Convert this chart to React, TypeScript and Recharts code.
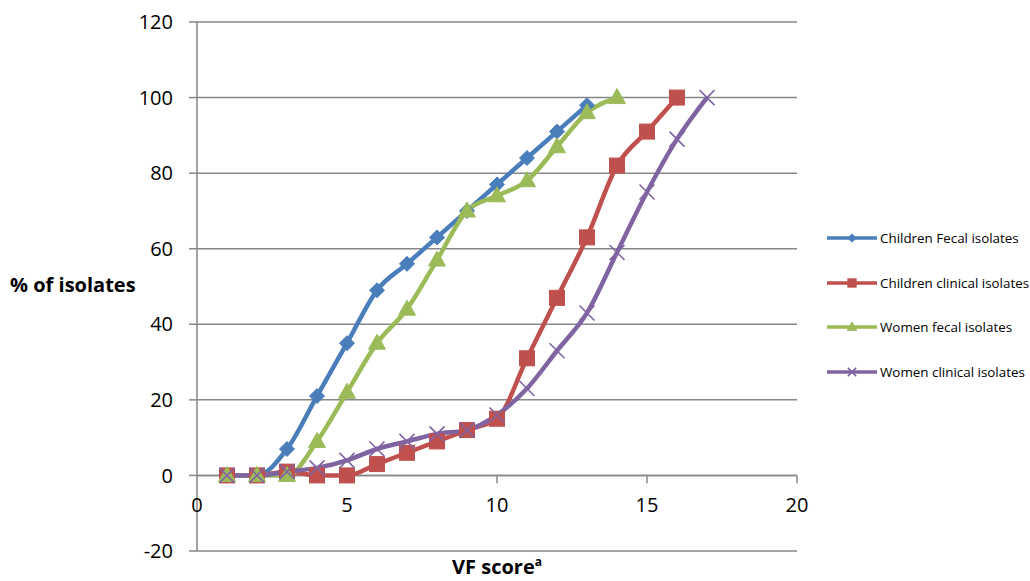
import React from "react"
import { LineChart, Line, XAxis, YAxis, CartesianGrid, ReferenceLine } from "recharts"

// VF score (x) and cumulative % of isolates (y) for each group
const childFecalX = [1, 2, 3, 4, 5, 6, 7, 8, 9, 10, 11, 12, 13]
const childFecalY = [0, 0, 7, 21, 35, 49, 56, 63, 70, 77, 84, 91, 98]
const childClinicalX = [1, 2, 3, 4, 5, 6, 7, 8, 9, 10, 11, 12, 13, 14, 15, 16]
const childClinicalY = [0, 0, 1, 0, 0, 3, 6, 9, 12, 15, 31, 47, 63, 82, 91, 100]
const womenFecalX = [1, 2, 3, 4, 5, 6, 7, 8, 9, 10, 11, 12, 13, 14]
const womenFecalY = [0, 0, 0, 9, 22, 35, 44, 57, 70, 74, 78, 87, 96, 100]
const womenClinicalX = [1, 2, 3, 4, 5, 6, 7, 8, 9, 10, 11, 12, 13, 14, 15, 16, 17]
const womenClinicalY = [0, 0, 1, 2, 4, 7, 9, 11, 12, 16, 23, 33, 43, 59, 75, 89, 100]

const xTicks = [0, 5, 10, 15, 20]
const yTicks = [-20, 0, 20, 40, 60, 80, 100, 120]
const xTickMarks = [5, 10, 15, 20]

const seriesNames = [
    "Children Fecal isolates",
    "Children clinical isolates",
    "Women fecal isolates",
    "Women clinical isolates",
]

const BLUE = "#4A7EBB"
const RED = "#C0504D"
const GREEN = "#9BBB59"
const PURPLE = "#8064A2"
const GRID = "#878787"
const FONT = "'Open Sans', sans-serif"

const W = 1030
const H = 581
const TOP = 22
const BOTTOM = 30
const PLOT_H = H - TOP - BOTTOM
const ZERO_Y = TOP + (120 / 140) * PLOT_H

const toPoints = (xs: number[], ys: number[]) => xs.map((x, i) => ({ x, y: ys[i] }))

type Shape = "diamond" | "square" | "triangle" | "cross"

function marker(shape: Shape, color: string, cx: number, cy: number, k: any, scale = 1) {
    if (cx == null || cy == null) return <g key={k} />
    if (shape === "diamond") {
        const r = 7.5 * scale
        return <path key={k} d={`M${cx},${cy - r}L${cx + r},${cy}L${cx},${cy + r}L${cx - r},${cy}Z`} fill={color} stroke={color} />
    }
    if (shape === "square") {
        const s = 15 * scale
        return <rect key={k} x={cx - s / 2} y={cy - s / 2} width={s} height={s} fill={color} stroke={color} />
    }
    if (shape === "triangle") {
        const w = 8.5 * scale
        return <path key={k} d={`M${cx},${cy - 9 * scale}L${cx + w},${cy + 6 * scale}L${cx - w},${cy + 6 * scale}Z`} fill={color} stroke={color} />
    }
    const r = 7.5 * scale
    return (
        <path key={k} d={`M${cx - r},${cy - r}L${cx + r},${cy + r}M${cx + r},${cy - r}L${cx - r},${cy + r}`} stroke={color} strokeWidth={1.6} fill="none" />
    )
}

const series = [
    { name: seriesNames[0], data: toPoints(childFecalX, childFecalY), color: BLUE, shape: "diamond" as Shape },
    { name: seriesNames[1], data: toPoints(childClinicalX, childClinicalY), color: RED, shape: "square" as Shape },
    { name: seriesNames[2], data: toPoints(womenFecalX, womenFecalY), color: GREEN, shape: "triangle" as Shape },
    { name: seriesNames[3], data: toPoints(womenClinicalX, womenClinicalY), color: PURPLE, shape: "cross" as Shape },
]

// x tick labels sit just under the zero line, as in the original
const renderXTick = (props: any) => {
    const { x, payload, index } = props
    return (
        <text key={`xl-${index}`} x={x} y={ZERO_Y + 37} textAnchor="middle" fontSize={20} fontFamily={FONT} fill="#000">
            {payload.value}
        </text>
    )
}

export default function App() {
    return (
        <div style={{ position: "absolute", left: 0, top: 0, width: W, height: H, background: "#fff", fontFamily: FONT }}>
            <LineChart width={W} height={H} margin={{ top: TOP, right: 233, bottom: 0, left: 137 }}>
                <CartesianGrid vertical={false} stroke={GRID} strokeWidth={1.5} />
                <XAxis
                    type="number"
                    dataKey="x"
                    domain={[0, 20]}
                    ticks={xTicks}
                    height={BOTTOM}
                    axisLine={false}
                    tickLine={false}
                    tick={renderXTick}
                    interval={0}
                    allowDuplicatedCategory={false}
                />
                <YAxis
                    type="number"
                    domain={[-20, 120]}
                    ticks={yTicks}
                    width={60}
                    axisLine={{ stroke: GRID, strokeWidth: 1.5 }}
                    tickLine={{ stroke: GRID, strokeWidth: 1.5 }}
                    tickSize={8}
                    tickMargin={16}
                    tick={{ fontSize: 20, fontFamily: FONT, fill: "#000" }}
                    interval={0}
                />
                <ReferenceLine y={0} stroke={GRID} strokeWidth={1.5} ifOverflow="visible" />
                {xTickMarks.map(t => (
                    <ReferenceLine
                        key={`xt-${t}`}
                        segment={[{ x: t, y: 0 }, { x: t, y: -2.1 }]}
                        stroke={GRID}
                        strokeWidth={1.5}
                        ifOverflow="visible"
                    />
                ))}
                {series.map(s => (
                    <Line
                        key={s.name}
                        data={s.data}
                        dataKey="y"
                        name={s.name}
                        type="monotone"
                        stroke={s.color}
                        strokeWidth={4.5}
                        strokeLinejoin="round"
                        isAnimationActive={false}
                        activeDot={false}
                        dot={(p: any) => marker(s.shape, s.color, p.cx, p.cy, `${s.name}-${p.index}`)}
                    />
                ))}
            </LineChart>

            <div style={{ position: "absolute", left: 10, top: 271, fontSize: 20, fontWeight: 700, color: "#000", whiteSpace: "nowrap" }}>
                % of isolates
            </div>
            <div style={{ position: "absolute", left: 397, width: 200, textAlign: "center", top: 553, fontSize: 20, fontWeight: 700, color: "#000", whiteSpace: "nowrap" }}>
                VF score<sup style={{ fontSize: 12 }}>a</sup>
            </div>

            <div style={{ position: "absolute", left: 826, top: 227 }}>
                {series.map(s => (
                    <div key={s.name} style={{ display: "flex", alignItems: "center", height: 22, marginBottom: 22.6 }}>
                        <svg width={52} height={16} style={{ display: "block" }}>
                            <line x1={1} y1={8} x2={51} y2={8} stroke={s.color} strokeWidth={3.5} />
                            {marker(s.shape, s.color, 26, 8, "m", 0.55)}
                        </svg>
                        <span style={{ fontSize: 13.4, color: "#000", marginLeft: 2, whiteSpace: "nowrap" }}>{s.name}</span>
                    </div>
                ))}
            </div>
        </div>
    )
}
